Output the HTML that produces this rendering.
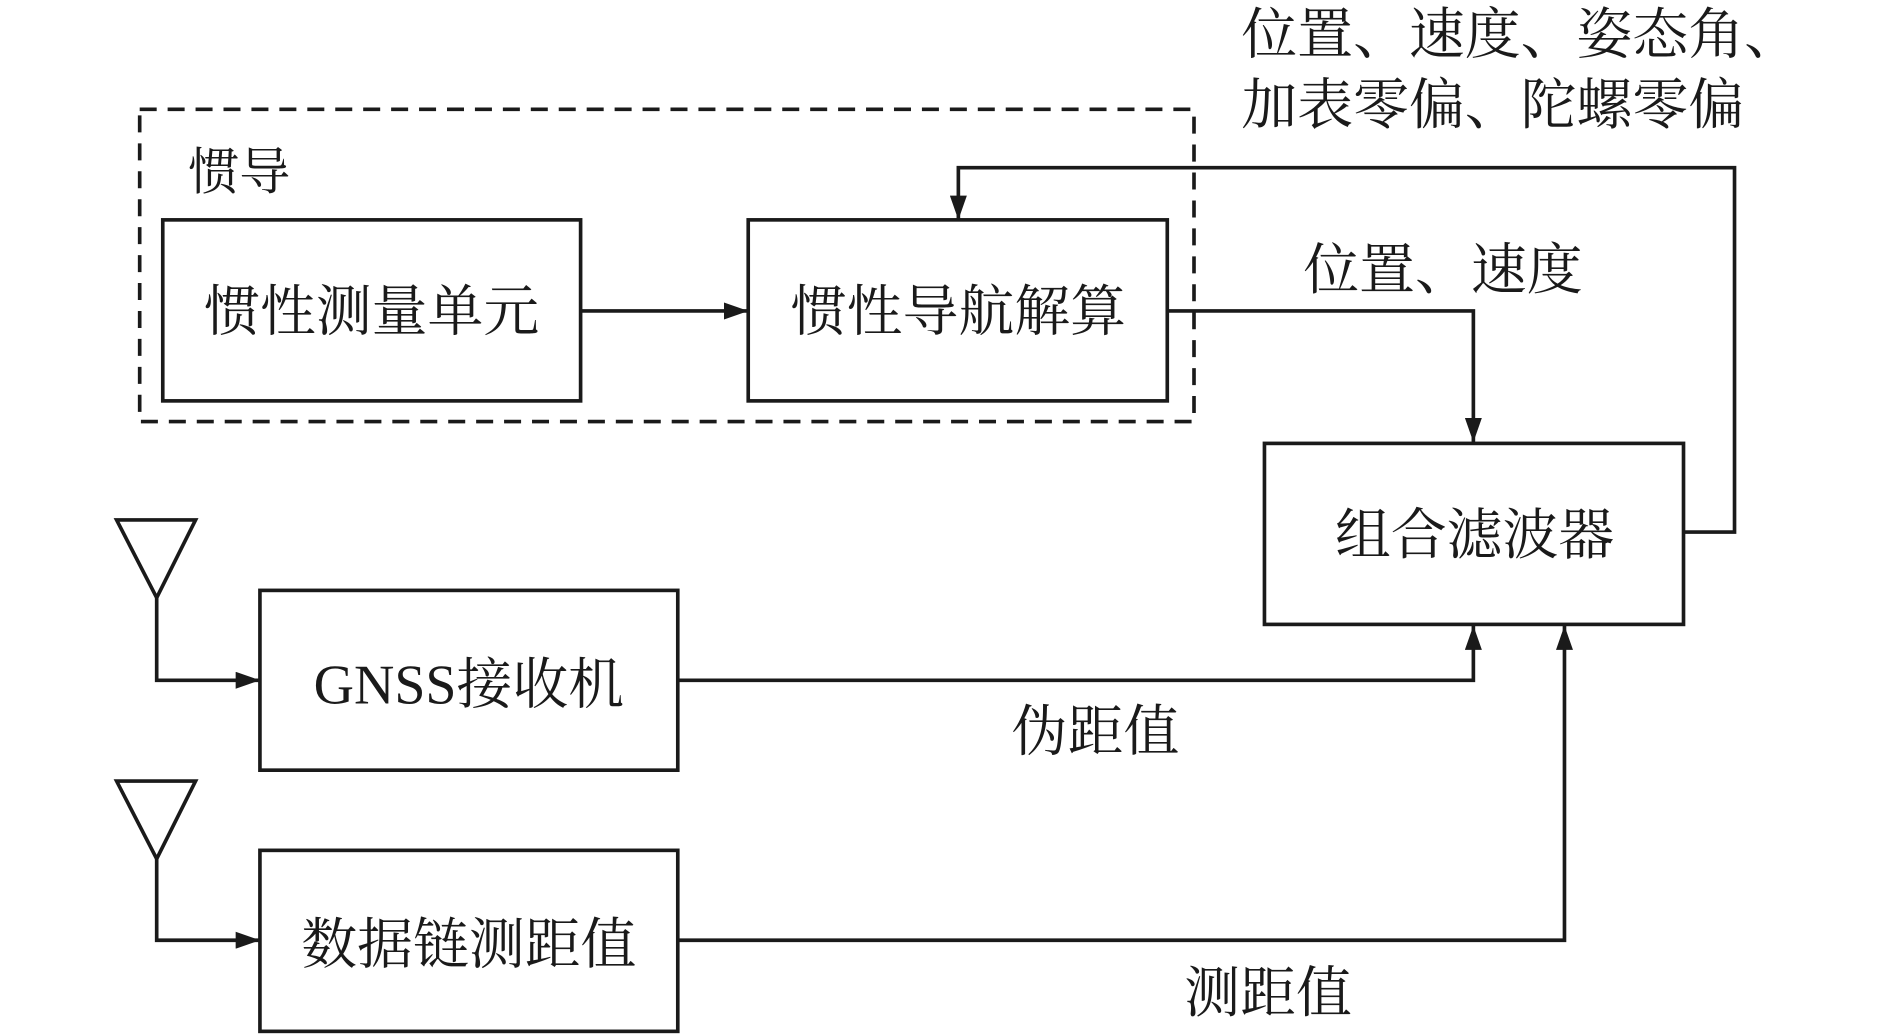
<!DOCTYPE html>
<html><head><meta charset="utf-8"><style>
html,body{margin:0;padding:0;background:#fff;}
svg{display:block;}
text{font-family:"Liberation Serif","Noto Serif CJK SC",serif;fill:#1a1a1a;}
</style></head><body>
<svg width="1890" height="1035" viewBox="0 0 1556 852" preserveAspectRatio="none" xmlns="http://www.w3.org/2000/svg">
<defs><marker id="a" markerWidth="10" markerHeight="10" refX="10" refY="5" orient="auto" markerUnits="userSpaceOnUse"><path d="M0,0 L0,0 L10,5 L0,10 Z" transform="scale(1)" fill="#1a1a1a"/></marker>
<marker id="b" viewBox="0 0 20 14" markerWidth="20" markerHeight="14" refX="20" refY="7" orient="auto" markerUnits="userSpaceOnUse"><path d="M0,0 L20,7 L0,14 Z" fill="#1a1a1a"/></marker></defs>
<g stroke="#1a1a1a" stroke-width="3" fill="none">
<rect x="115" y="90" width="868" height="257" stroke-dasharray="14,9"/>
<rect x="134" y="181" width="344" height="149"/>
<rect x="616" y="181" width="345" height="149"/>
<rect x="1041" y="365" width="345" height="149"/>
<rect x="214" y="486" width="344" height="148"/>
<rect x="214" y="700" width="344" height="149"/>
<path d="M478,256 L616,256" marker-end="url(#b)"/>
<path d="M961,256 L1213,256 L1213,364" marker-end="url(#b)"/>
<path d="M1386,438 L1428,438 L1428,138 L789,138 L789,181" marker-end="url(#b)"/>
<path d="M96,428 L161,428 L129,492 Z"/>
<path d="M129,492 L129,560 L214,560" marker-end="url(#b)"/>
<path d="M96,643 L161,643 L129,707 Z"/>
<path d="M129,707 L129,774 L214,774" marker-end="url(#b)"/>
<path d="M558,560 L1213,560 L1213,515" marker-end="url(#b)"/>
<path d="M558,774 L1288,774 L1288,515" marker-end="url(#b)"/>
</g>
<g font-size="46">
<text x="155" y="156" font-size="42">惯导</text>
<text x="306" y="272" text-anchor="middle">惯性测量单元</text>
<text x="789" y="272" text-anchor="middle">惯性导航解算</text>
<text x="1214" y="456" text-anchor="middle">组合滤波器</text>
<text x="386" y="579" text-anchor="middle">GNSS接收机</text>
<text x="386" y="793" text-anchor="middle">数据链测距值</text>
<text x="1073" y="238">位置、速度</text>
<text x="1022" y="44">位置、速度、姿态角、</text>
<text x="1022" y="102">加表零偏、陀螺零偏</text>
<text x="833" y="618">伪距值</text>
<text x="975" y="833">测距值</text>
</g>
</svg>
</body></html>
